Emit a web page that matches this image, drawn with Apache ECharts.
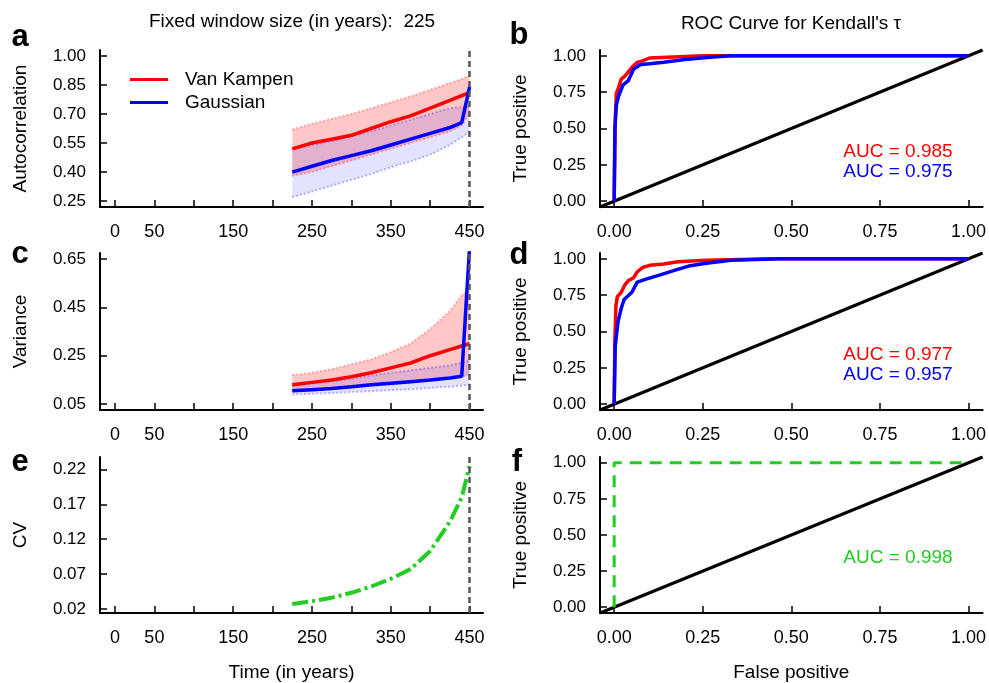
<!DOCTYPE html>
<html>
<head>
<meta charset="utf-8">
<title>Early warning indicators</title>
<script src="https://cdn.jsdelivr.net/npm/echarts@6/dist/echarts.min.js"></script>
<style>
  html, body { margin: 0; padding: 0; background: #fff; }
  #chart { width: 989px; height: 683px; }
</style>
</head>
<body>
<div id="chart"></div>
<script>
// ---- data ----
const years = [225, 250, 275, 300, 325, 350, 375, 400, 425, 440, 450];

// a: autocorrelation (mean and band)
const acVkMean = [0.52, 0.55, 0.57, 0.59, 0.625, 0.66, 0.69, 0.73, 0.77, 0.795, 0.81];
const acVkLow = [0.38, 0.40, 0.43, 0.46, 0.49, 0.52, 0.55, 0.58, 0.61, 0.64, 0.70];
const acVkHigh = [0.62, 0.65, 0.675, 0.70, 0.73, 0.76, 0.79, 0.825, 0.86, 0.88, 0.90];
const acGaMean = [0.40, 0.43, 0.46, 0.485, 0.51, 0.54, 0.57, 0.60, 0.63, 0.655, 0.84];
const acGaLow = [0.27, 0.30, 0.33, 0.36, 0.39, 0.425, 0.455, 0.49, 0.54, 0.58, 0.61];
const acGaHigh = [0.52, 0.54, 0.56, 0.585, 0.61, 0.64, 0.67, 0.70, 0.73, 0.735, 0.74];

// c: variance
const varVkMean = [0.13, 0.14, 0.15, 0.163, 0.18, 0.20, 0.22, 0.25, 0.275, 0.29, 0.30];
const varVkLow = [0.105, 0.11, 0.115, 0.12, 0.125, 0.13, 0.14, 0.15, 0.16, 0.165, 0.17];
const varVkHigh = [0.17, 0.18, 0.195, 0.215, 0.235, 0.265, 0.30, 0.36, 0.435, 0.50, 0.52];
const varGaMean = [0.105, 0.11, 0.115, 0.122, 0.13, 0.136, 0.143, 0.15, 0.158, 0.165, 0.70];
const varGaLow = [0.09, 0.093, 0.096, 0.10, 0.104, 0.108, 0.112, 0.117, 0.122, 0.127, 0.13];
const varGaHigh = [0.125, 0.135, 0.145, 0.155, 0.168, 0.18, 0.19, 0.20, 0.21, 0.222, 0.23];

// e: coefficient of variation
const cvValues = [0.027, 0.031, 0.036, 0.043, 0.052, 0.063, 0.077, 0.103, 0.145, 0.18, 0.225];

// b, d, f: ROC curves [false positive, true positive]
const rocAcVk = [[0, 0], [0.003, 0.55], [0.006, 0.74], [0.012, 0.78], [0.02, 0.84], [0.03, 0.86], [0.04, 0.89],
  [0.05, 0.92], [0.065, 0.955], [0.08, 0.965], [0.1, 0.985], [0.15, 0.99], [0.25, 1], [1, 1]];
const rocAcGa = [[0, 0], [0.002, 0.5], [0.006, 0.66], [0.012, 0.72], [0.025, 0.8], [0.04, 0.83], [0.055, 0.91],
  [0.075, 0.94], [0.1, 0.945], [0.14, 0.955], [0.2, 0.975], [0.27, 0.99], [0.33, 1], [1, 1]];
const rocVarVk = [[0, 0], [0.002, 0.45], [0.005, 0.68], [0.009, 0.74], [0.02, 0.77], [0.03, 0.82], [0.04, 0.85],
  [0.055, 0.87], [0.065, 0.91], [0.08, 0.94], [0.1, 0.955], [0.14, 0.965], [0.18, 0.98], [0.26, 0.99], [0.45, 1], [1, 1]];
const rocVarGa = [[0, 0], [0.003, 0.4], [0.011, 0.57], [0.02, 0.66], [0.028, 0.72], [0.05, 0.77], [0.065, 0.84],
  [0.09, 0.86], [0.13, 0.89], [0.17, 0.92], [0.21, 0.95], [0.26, 0.97], [0.33, 0.99], [0.47, 1], [1, 1]];
const rocCv = [[0, 0], [0, 1], [1, 1]];
const diagonal = [[-0.04, -0.04], [1.04, 1.04]];

// ticks
const timeTicks = [0, 50, 100, 150, 200, 250, 300, 350, 400, 450];
const timeLabels = [0, 50, 150, 250, 350, 450];
const acTicks = [0.25, 0.40, 0.55, 0.70, 0.85, 1.00];
const varTicks = [0.05, 0.25, 0.45, 0.65];
const cvTicks = [0.02, 0.07, 0.12, 0.17, 0.22];
const rocTicks = [0, 0.25, 0.5, 0.75, 1];

const FONT = "'Liberation Sans', Arial, sans-serif";
const RED = '#ff0000';
const BLUE = '#0000ff';
const GREEN = '#22cc22';

const pairs = (xs, ys) => xs.map((x, i) => [x, ys[i]]);

const rowTops = [50, 253, 457];
const grids = [];
rowTops.forEach(top => {
  grids.push({ left: 100, top: top, width: 383, height: 157 });
  grids.push({ left: 600, top: top, width: 383, height: 157 });
});

const axisLine = { onZero: false, lineStyle: { color: '#000', width: 2 } };
const axisTick = (vals) => ({ inside: true, length: 7, customValues: vals, lineStyle: { color: '#000', width: 1.5 } });

function timeAxis(g, withName) {
  return {
    type: 'value', gridIndex: g, min: -19, max: 467,
    axisLine: axisLine,
    axisTick: axisTick(timeTicks),
    axisLabel: { customValues: timeLabels, margin: 16, color: '#000', fontSize: 18, fontFamily: FONT },
    splitLine: { show: false },
    name: withName ? 'Time (in years)' : '',
    nameLocation: 'middle', nameGap: 50,
    nameTextStyle: { color: '#000', fontSize: 19, fontFamily: FONT }
  };
}

function rocXAxis(g, withName) {
  return {
    type: 'value', gridIndex: g, min: -0.04, max: 1.04,
    axisLine: axisLine,
    axisTick: axisTick(rocTicks),
    axisLabel: { customValues: rocTicks, margin: 16, color: '#000', fontSize: 18, fontFamily: FONT,
      formatter: v => v.toFixed(2) },
    splitLine: { show: false },
    name: withName ? 'False positive' : '',
    nameLocation: 'middle', nameGap: 50,
    nameTextStyle: { color: '#000', fontSize: 19, fontFamily: FONT }
  };
}

function yAxis(g, min, max, ticks, name) {
  return {
    type: 'value', gridIndex: g, min: min, max: max,
    axisLine: axisLine,
    axisTick: axisTick(ticks),
    axisLabel: { customValues: ticks, margin: 14, color: '#000', fontSize: 17, fontFamily: FONT,
      formatter: v => v.toFixed(2) },
    splitLine: { show: false },
    name: name, nameLocation: 'middle', nameGap: 70, nameRotate: 90,
    nameTextStyle: { color: '#000', fontSize: 19, fontFamily: FONT }
  };
}

const xAxes = [
  timeAxis(0, false), rocXAxis(1, false),
  timeAxis(2, false), rocXAxis(3, false),
  timeAxis(4, true), rocXAxis(5, true)
];
const yAxes = [
  yAxis(0, 0.22, 1.03, acTicks, 'Autocorrelation'),
  yAxis(1, -0.04, 1.04, rocTicks, 'True positive'),
  yAxis(2, 0.026, 0.674, varTicks, 'Variance'),
  yAxis(3, -0.04, 1.04, rocTicks, 'True positive'),
  yAxis(4, 0.014, 0.238, cvTicks, 'CV'),
  yAxis(5, -0.04, 1.04, rocTicks, 'True positive')
];

const endLine = {
  silent: true, symbol: ['none', 'none'],
  label: { show: false },
  lineStyle: { color: '#555', type: [6, 4], width: 2.5 },
  data: [{ xAxis: 450 }]
};

// shaded band between lo and hi: one polygon drawn through the axis scales,
// plus dotted edges as plain line series
function band(g, lo, hi, fill, edge) {
  const edgeLine = (data) => ({
    type: 'line', xAxisIndex: g, yAxisIndex: g, showSymbol: false, silent: true,
    data: pairs(years, data), lineStyle: { color: edge, type: 'dotted', width: 2 }
  });
  return [
    {
      type: 'custom', xAxisIndex: g, yAxisIndex: g, silent: true, clip: true,
      data: years.map((x, i) => [x, lo[i], hi[i]]),
      encode: { x: 0, y: [1, 2] },
      renderItem: (params, api) => {
        if (params.dataIndex !== 0) return null;
        const top = years.map((x, i) => api.coord([x, hi[i]]));
        const bottom = years.map((x, i) => api.coord([x, lo[i]])).reverse();
        return { type: 'polygon', shape: { points: top.concat(bottom) }, style: { fill: fill } };
      }
    },
    edgeLine(lo),
    edgeLine(hi)
  ];
}

function meanLine(g, name, color, data, mark) {
  const s = { type: 'line', name: name, xAxisIndex: g, yAxisIndex: g, showSymbol: false,
    data: pairs(years, data), itemStyle: { color: color }, lineStyle: { color: color, width: 3.5 } };
  if (mark) s.markLine = endLine;
  return s;
}

function rocLine(g, name, color, data, type, width) {
  return { type: 'line', name: name, xAxisIndex: g, yAxisIndex: g, showSymbol: false, silent: true,
    data: data, itemStyle: { color: color },
    lineStyle: { color: color, width: width || 3.5, type: type || 'solid' } };
}

const series = [
  // a
  ...band(0, acVkLow, acVkHigh, 'rgba(255,0,0,0.22)', 'rgba(255,0,0,0.28)'),
  ...band(0, acGaLow, acGaHigh, 'rgba(0,0,255,0.11)', 'rgba(0,0,255,0.28)'),
  meanLine(0, 'Van Kampen', RED, acVkMean, true),
  meanLine(0, 'Gaussian', BLUE, acGaMean, false),
  // b
  rocLine(1, 'diag b', '#000', diagonal, 'solid', 3),
  rocLine(1, 'roc ac vk', RED, rocAcVk),
  rocLine(1, 'roc ac ga', BLUE, rocAcGa),
  // c
  ...band(2, varVkLow, varVkHigh, 'rgba(255,0,0,0.22)', 'rgba(255,0,0,0.28)'),
  ...band(2, varGaLow, varGaHigh, 'rgba(0,0,255,0.11)', 'rgba(0,0,255,0.28)'),
  meanLine(2, 'Van Kampen', RED, varVkMean, true),
  meanLine(2, 'Gaussian', BLUE, varGaMean, false),
  // d
  rocLine(3, 'diag d', '#000', diagonal, 'solid', 3),
  rocLine(3, 'roc var vk', RED, rocVarVk),
  rocLine(3, 'roc var ga', BLUE, rocVarGa),
  // e
  Object.assign(meanLine(4, 'CV', GREEN, cvValues, true), { lineStyle: { color: GREEN, width: 4, type: [16, 4, 3, 4] } }),
  // f
  rocLine(5, 'diag f', '#000', diagonal, 'solid', 3),
  rocLine(5, 'roc cv', GREEN, rocCv, [12, 8], 3)
];

function txt(x, y, text, opts) {
  const o = opts || {};
  return {
    type: 'text', x: x, y: y, silent: true,
    style: {
      text: text, fill: o.color || '#000',
      font: (o.bold ? 'bold ' : '') + (o.size || 19) + 'px ' + FONT,
      textAlign: o.align || 'center', align: o.align || 'center',
      textVerticalAlign: 'middle', verticalAlign: 'middle'
    }
  };
}

const graphics = [
  txt(292, 22, 'Fixed window size (in years):  225'),
  txt(791, 24, "ROC Curve for Kendall's \u03c4"),
  txt(20, 37, 'a', { bold: true, size: 31 }),
  txt(519, 35, 'b', { bold: true, size: 31 }),
  txt(20, 254, 'c', { bold: true, size: 31 }),
  txt(519, 255, 'd', { bold: true, size: 31 }),
  txt(20, 462, 'e', { bold: true, size: 31 }),
  txt(517, 462, 'f', { bold: true, size: 31 }),
  txt(898, 152, 'AUC = 0.985', { color: RED }),
  txt(898, 172, 'AUC = 0.975', { color: BLUE }),
  txt(898, 355, 'AUC = 0.977', { color: RED }),
  txt(898, 375, 'AUC = 0.957', { color: BLUE }),
  txt(898, 558, 'AUC = 0.998', { color: GREEN })
];

const chart = echarts.init(document.getElementById('chart'), null, { renderer: 'canvas' });
const option = {
  backgroundColor: '#fff',
  animation: false,
  grid: grids,
  xAxis: xAxes,
  yAxis: yAxes,
  legend: {
    left: 130, top: 70, orient: 'vertical', padding: 0,
    data: ['Van Kampen', 'Gaussian'],
    icon: 'rect', itemWidth: 38, itemHeight: 3, itemGap: 4,
    textStyle: { fontSize: 19, color: '#000', fontFamily: FONT, padding: [0, 0, 0, 12] }
  },
  graphic: graphics,
  series: series
};
chart.setOption(option);
</script>
</body>
</html>
